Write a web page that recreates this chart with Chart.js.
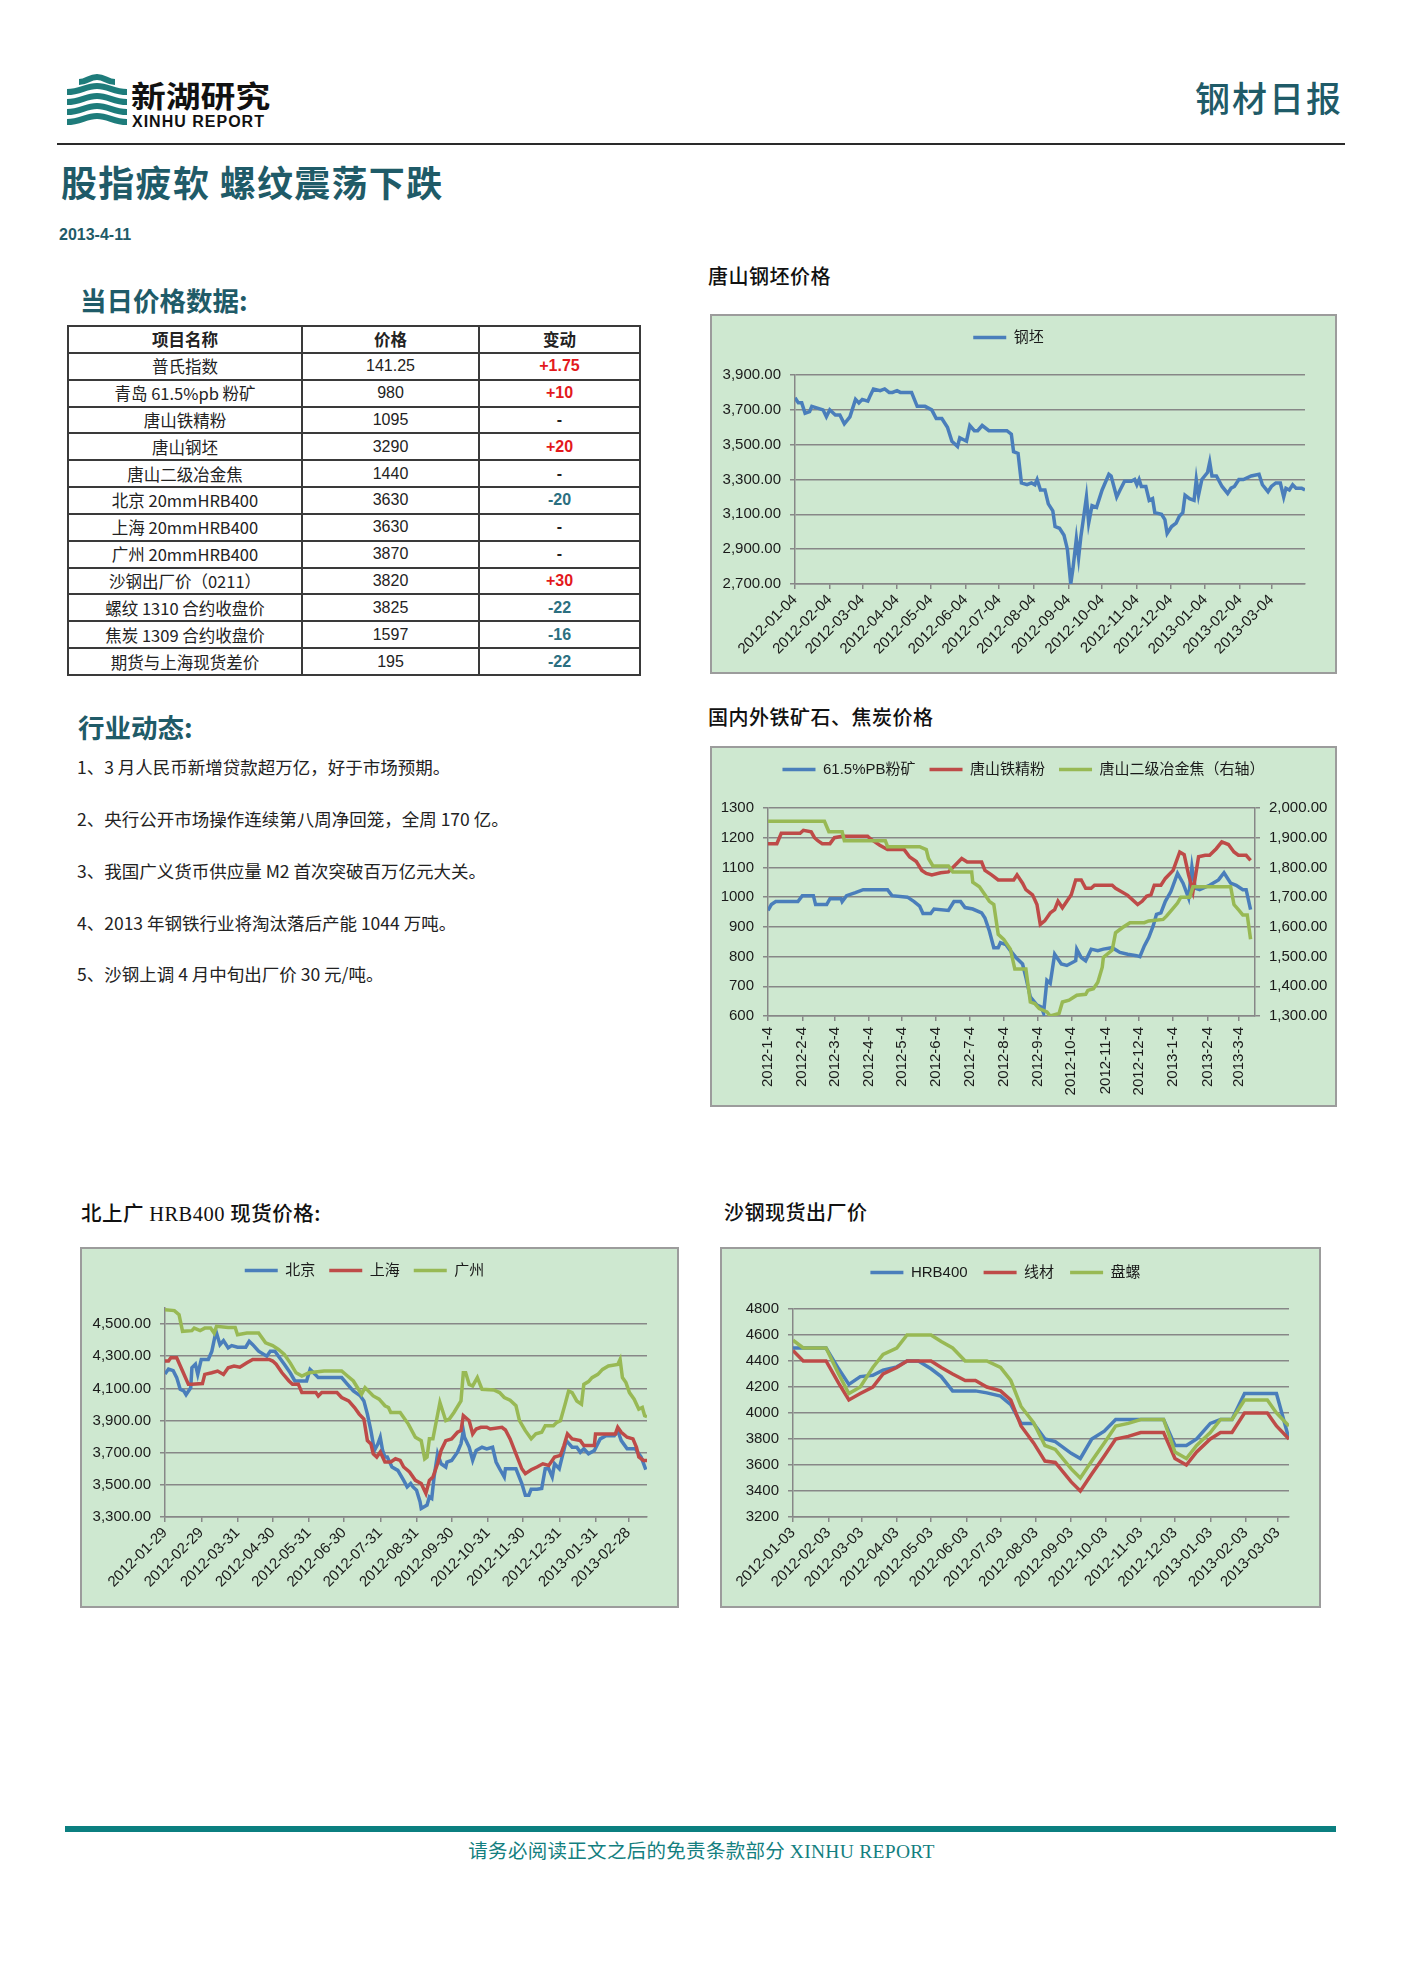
<!DOCTYPE html>
<html lang="zh-CN">
<head>
<meta charset="utf-8">
<title>钢材日报 2013-4-11</title>
<script src="https://cdn.jsdelivr.net/npm/chart.js@4.4.1/dist/chart.umd.min.js"></script>
<style>
  html, body { margin: 0; padding: 0; background: #fff; }
  body {
    width: 1403px; height: 1984px; position: relative; overflow: hidden;
    font-family: "Liberation Sans", "Noto Sans CJK SC", sans-serif; color: #1a1a1a;
  }
  .abs { position: absolute; white-space: nowrap; }
  .cjk { font-family: "Noto Sans CJK SC", sans-serif; }
  .teal { color: #1f5b68; }
  .box { position: absolute; background: #cee8d0; border: 2px solid #9c9c9c; box-sizing: border-box; }
  .box canvas { display: block; }
  .ctitle { font-family: "Noto Sans CJK SC", sans-serif; font-size: 20px; font-weight: 500; line-height: 24px; color: #111; letter-spacing: 0.5px; }
  .sect { font-family: "Noto Sans CJK SC", sans-serif; font-size: 26.5px; font-weight: 700; line-height: 32px; color: #1f5b68; }
  #priceTable { position: absolute; left: 67px; top: 325px; width: 572px; border-collapse: collapse; table-layout: fixed; }
  #priceTable td { border: 2px solid #3a3a3a; height: 24.85px; padding: 0; text-align: center;
    font-size: 16px; line-height: 18px; font-family: "Liberation Sans", "Noto Sans CJK SC", sans-serif; color: #222; }
  #priceTable td.cjk { font-family: "Noto Sans CJK SC", sans-serif; font-size: 16.5px; }
  #priceTable tr.head td { font-weight: 700; font-family: "Noto Sans CJK SC", sans-serif; font-size: 16.5px; }
  #priceTable td.up { color: #e3191c; font-weight: 700; }
  #priceTable td.down { color: #2b6f80; font-weight: 700; }
  #priceTable td.flat { font-weight: 700; }
  .news { font-family: "Noto Sans CJK SC", sans-serif; font-size: 17.5px; line-height: 22px; color: #222; left: 77px; }
</style>
</head>
<body>

<!-- header -->
<svg class="abs" style="left:67px;top:74px" width="60" height="56" viewBox="0 0 60 56">
  <g fill="none" stroke="#1e7c7b" stroke-width="6">
    <path d="M12 8 C20 8 22 3 30 3 C38 3 40 8 48 8"/>
    <path d="M0 18 C14 18 18 12 30 12 C42 12 46 18 60 18"/>
    <path d="M0 28 C14 28 18 22 30 22 C42 22 46 28 60 28"/>
    <path d="M0 38 C14 38 18 32 30 32 C42 32 46 38 60 38"/>
    <path d="M0 48 C14 48 18 42 30 42 C42 42 46 48 60 48"/>
  </g>
</svg>
<div class="abs cjk" style="left:131px;top:77px;font-size:30px;font-weight:700;line-height:34px;color:#111;transform:scaleX(1.16);transform-origin:left center;">新湖研究</div>
<div class="abs" style="left:132px;top:113px;font-size:16px;font-weight:700;line-height:18px;letter-spacing:1px;color:#111;">XINHU REPORT</div>
<div class="abs cjk teal" style="right:60px;top:77px;font-size:35px;font-weight:500;line-height:40px;letter-spacing:2px;">钢材日报</div>
<div class="abs" style="left:57px;top:143px;width:1288px;height:2px;background:#2a2a2a;"></div>

<div class="abs cjk teal" style="left:61px;top:161px;font-size:36px;font-weight:700;line-height:40px;letter-spacing:1.3px;">股指疲软 螺纹震荡下跌</div>
<div class="abs teal" style="left:59px;top:225px;font-size:16px;font-weight:700;line-height:20px;">2013-4-11</div>

<div class="abs sect" style="left:80px;top:284px;">当日价格数据:</div>
<table id="priceTable"></table>

<div class="abs sect" style="left:78px;top:711px;">行业动态:</div>
<div id="newsBox"></div>

<!-- chart titles and boxes -->
<div class="abs ctitle" style="left:708px;top:264px;">唐山钢坯价格</div>
<div class="box" style="left:710px;top:314px;width:627px;height:360px;"><canvas id="c1" width="623" height="356"></canvas></div>

<div class="abs ctitle" style="left:708px;top:705px;">国内外铁矿石、焦炭价格</div>
<div class="box" style="left:710px;top:746px;width:627px;height:361px;"><canvas id="c2" width="623" height="357"></canvas></div>

<div class="abs ctitle" style="left:81px;top:1200px;font-size:20.5px;">北上广 <span style="font-family:'Liberation Serif',serif;">HRB400</span> 现货价格:</div>
<div class="box" style="left:80px;top:1247px;width:599px;height:361px;"><canvas id="c3" width="595" height="357"></canvas></div>

<div class="abs ctitle" style="left:724px;top:1200px;">沙钢现货出厂价</div>
<div class="box" style="left:720px;top:1247px;width:601px;height:361px;"><canvas id="c4" width="597" height="357"></canvas></div>

<!-- footer -->
<div class="abs" style="left:65px;top:1826px;width:1271px;height:6px;background:#0b7f80;"></div>
<div class="abs cjk" style="left:0;width:1403px;text-align:center;top:1837px;font-size:19.5px;line-height:26px;color:#137f80;letter-spacing:0.3px;">请务必阅读正文之后的免责条款部分 <span style="font-family:'Liberation Serif',serif;">XINHU REPORT</span></div>

<script>
// ---------------- Table / news data ----------------
const TABLE_HEAD = ["项目名称", "价格", "变动"];
const TABLE_ITEMS = ["普氏指数", "青岛 61.5%pb 粉矿", "唐山铁精粉", "唐山钢坯", "唐山二级冶金焦",
  "北京 20mmHRB400", "上海 20mmHRB400", "广州 20mmHRB400", "沙钢出厂价（0211）",
  "螺纹 1310 合约收盘价", "焦炭 1309 合约收盘价", "期货与上海现货差价"];
const TABLE_PRICES = ["141.25", "980", "1095", "3290", "1440", "3630", "3630", "3870", "3820", "3825", "1597", "195"];
const TABLE_CHANGES = ["+1.75", "+10", "-", "+20", "-", "-20", "-", "-", "+30", "-22", "-16", "-22"];

const NEWS = [
  "1、3 月人民币新增贷款超万亿，好于市场预期。",
  "2、央行公开市场操作连续第八周净回笼，全周 170 亿。",
  "3、我国广义货币供应量 M2 首次突破百万亿元大关。",
  "4、2013 年钢铁行业将淘汰落后产能 1044 万吨。",
  "5、沙钢上调 4 月中旬出厂价 30 元/吨。"
];

// ---------------- Chart 1: 唐山钢坯 (days since 2012-01-04) ----------------
const BILLET_BASE = "2012-01-04";
const BILLET_TICKS = ["2012-01-04", "2012-02-04", "2012-03-04", "2012-04-04", "2012-05-04", "2012-06-04",
  "2012-07-04", "2012-08-04", "2012-09-04", "2012-10-04", "2012-11-04", "2012-12-04",
  "2013-01-04", "2013-02-04", "2013-03-04"];
const BILLET_Y_TICKS = [2700, 2900, 3100, 3300, 3500, 3700, 3900];
const BILLET_DAY = [0, 3, 6, 9, 13, 15, 20, 25, 28, 31, 36, 40, 44, 49, 54, 57, 60, 65, 67, 70,
  76, 80, 84, 87, 91, 94, 104, 109, 116, 122, 126, 131, 136, 140, 145, 147, 153, 156, 160, 163,
  167, 173, 182, 189, 193, 195, 199, 202, 207, 211, 214, 216, 219, 223, 226, 230, 232, 236, 240, 243,
  246, 248, 251, 253, 255, 257, 260, 262, 265, 269, 274, 280, 282, 287, 290, 294, 300, 303, 305, 307,
  309, 313, 316, 319, 321, 327, 330, 332, 336, 340, 343, 346, 348, 352, 356, 358, 360, 363, 368, 370,
  372, 376, 381, 386, 389, 392, 396, 400, 407, 414, 417, 422, 425, 429, 433, 436, 438, 441, 444, 447,
  452, 455];
const BILLET_PRICE = [3770, 3740, 3740, 3680, 3690, 3720, 3710, 3700, 3660, 3700, 3670, 3670, 3620, 3660, 3760, 3740, 3760, 3750, 3780, 3820,
  3810, 3820, 3800, 3800, 3810, 3800, 3800, 3720, 3720, 3700, 3650, 3650, 3600, 3520, 3490, 3540, 3520, 3610, 3580, 3580,
  3610, 3580, 3580, 3580, 3560, 3460, 3450, 3280, 3270, 3280, 3270, 3300, 3240, 3240, 3160, 3120, 3030, 3020, 2980, 2900,
  2700, 2790, 2960, 2850, 2970, 3060, 3200, 3050, 3150, 3140, 3240, 3330, 3320, 3200, 3240, 3290, 3290, 3300, 3270, 3300,
  3260, 3260, 3180, 3190, 3110, 3100, 3070, 2990, 3030, 3050, 3090, 3110, 3210, 3190, 3180, 3300, 3210, 3300, 3340, 3400,
  3320, 3320, 3260, 3220, 3250, 3260, 3300, 3300, 3320, 3330, 3270, 3230, 3260, 3280, 3280, 3200, 3250, 3240, 3270, 3250,
  3250, 3240];

// ---------------- Chart 2: 铁矿石 / 焦炭 (days since 2012-1-4) ----------------
const ORE_BASE = "2012-1-4";
const ORE_TICKS = ["2012-1-4", "2012-2-4", "2012-3-4", "2012-4-4", "2012-5-4", "2012-6-4", "2012-7-4",
  "2012-8-4", "2012-9-4", "2012-10-4", "2012-11-4", "2012-12-4", "2013-1-4", "2013-2-4", "2013-3-4"];
const ORE_Y_TICKS = [600, 700, 800, 900, 1000, 1100, 1200, 1300];
const COKE_Y_TICKS = [1300, 1400, 1500, 1600, 1700, 1800, 1900, 2000];
const PB_DAY = [0, 3, 7, 27, 31, 41, 43, 53, 56, 66, 67, 71, 79, 86, 108, 112, 126, 132, 137, 140,
  147, 150, 163, 168, 174, 178, 185, 193, 196, 200, 204, 208, 210, 215, 219, 224, 230, 233, 237, 243,
  247, 249, 252, 255, 259, 265, 270, 278, 279, 283, 287, 292, 298, 303, 311, 318, 325, 333, 336, 340,
  344, 348, 351, 355, 359, 364, 370, 375, 380, 383, 386, 390, 399, 407, 412, 418, 423, 429, 432, 436];
const PB_PRICE = [955, 975, 985, 985, 1005, 1005, 975, 975, 995, 995, 985, 1005, 1015, 1025, 1025, 1005, 1000, 985, 970, 945,
  945, 960, 955, 985, 985, 965, 960, 947, 930, 886, 830, 830, 847, 840, 820, 797, 775, 730, 664, 637,
  630, 610, 720, 710, 808, 775, 770, 786, 825, 797, 786, 825, 820, 825, 830, 814, 808, 803, 800, 836,
  864, 903, 942, 947, 986, 1019, 1080, 1047, 997, 1102, 1030, 1025, 1040, 1058, 1082, 1047, 1040, 1025, 1025, 958];
const TS_FINES_DAY = [0, 8, 12, 29, 32, 39, 42, 45, 49, 56, 60, 67, 90, 93, 101, 108, 123, 128, 134, 139,
  143, 148, 156, 163, 171, 175, 180, 193, 196, 202, 208, 222, 225, 230, 233, 239, 243, 246, 250, 255,
  259, 262, 266, 270, 274, 278, 283, 287, 292, 295, 311, 314, 325, 334, 338, 342, 346, 349, 355, 359,
  366, 372, 376, 380, 384, 389, 395, 399, 405, 410, 416, 421, 425, 432, 436];
const TS_FINES_PRICE = [1180, 1180, 1215, 1215, 1225, 1220, 1200, 1190, 1180, 1180, 1200, 1205, 1205, 1195, 1175, 1160, 1160, 1135, 1120, 1090,
  1080, 1075, 1082, 1085, 1115, 1130, 1118, 1118, 1090, 1075, 1058, 1058, 1075, 1047, 1025, 1008, 975, 908, 920, 947,
  958, 986, 964, 986, 1008, 1058, 1058, 1030, 1030, 1040, 1040, 1030, 1006, 975, 986, 1003, 1008, 1040, 1040, 1063,
  1090, 1152, 1143, 1075, 1019, 1136, 1141, 1141, 1163, 1186, 1177, 1152, 1141, 1141, 1124];
const COKE_DAY = [0, 51, 55, 67, 69, 106, 108, 137, 143, 145, 149, 163, 167, 184, 185, 191, 196, 200, 204, 208,
  213, 219, 223, 233, 237, 241, 245, 252, 255, 263, 266, 272, 279, 287, 289, 294, 298, 302, 303, 311,
  314, 320, 327, 340, 344, 357, 360, 365, 370, 373, 381, 384, 418, 421, 425, 429, 433, 436];
const COKE_PRICE = [1955, 1955, 1920, 1920, 1890, 1890, 1870, 1870, 1860, 1830, 1805, 1805, 1785, 1785, 1750, 1735, 1708, 1686, 1675, 1575,
  1558, 1525, 1458, 1458, 1347, 1342, 1325, 1314, 1300, 1309, 1347, 1353, 1370, 1373, 1386, 1392, 1414, 1464, 1497, 1522,
  1580, 1597, 1614, 1614, 1620, 1625, 1636, 1658, 1680, 1700, 1700, 1735, 1735, 1675, 1658, 1640, 1640, 1558];

// ---------------- Chart 3: 北上广 HRB400 (days since 2012-01-29) ----------------
const REBAR_BASE = "2012-01-29";
const REBAR_TICKS = ["2012-01-29", "2012-02-29", "2012-03-31", "2012-04-30", "2012-05-31", "2012-06-30", "2012-07-31",
  "2012-08-31", "2012-09-30", "2012-10-31", "2012-11-30", "2012-12-31", "2013-01-31", "2013-02-28"];
const REBAR_Y_TICKS = [3300, 3500, 3700, 3900, 4100, 4300, 4500];
const BJ_DAY = [0, 3, 7, 10, 13, 16, 18, 22, 23, 26, 28, 31, 37, 40, 43, 44, 47, 50, 54, 57,
  62, 69, 72, 75, 80, 87, 90, 94, 97, 102, 107, 111, 121, 124, 127, 131, 151, 156, 161, 167,
  170, 173, 176, 179, 182, 184, 186, 188, 190, 194, 199, 204, 207, 210, 212, 215, 218, 219, 224, 226,
  228, 230, 233, 236, 240, 241, 245, 250, 253, 255, 256, 260, 263, 266, 271, 275, 280, 283, 286, 290,
  291, 300, 305, 308, 311, 313, 318, 322, 325, 328, 331, 333, 337, 338, 343, 348, 352, 355, 358, 362,
  367, 372, 377, 384, 387, 390, 395, 402, 407, 411];
const BJ_PRICE = [4190, 4220, 4210, 4167, 4095, 4084, 4060, 4105, 4228, 4250, 4187, 4280, 4280, 4330, 4434, 4445, 4372, 4397, 4352, 4366,
  4356, 4356, 4393, 4372, 4331, 4300, 4331, 4331, 4300, 4250, 4197, 4146, 4146, 4218, 4197, 4167, 4167, 4125, 4084, 4053,
  4022, 3940, 3837, 3714, 3755, 3796, 3714, 3673, 3673, 3611, 3590, 3528, 3487, 3508, 3487, 3467, 3395, 3353, 3374, 3425,
  3415, 3549, 3693, 3631, 3611, 3642, 3652, 3703, 3755, 3837, 3796, 3734, 3652, 3714, 3734, 3724, 3734, 3642, 3600, 3549,
  3600, 3600, 3508, 3436, 3436, 3473, 3473, 3477, 3600, 3600, 3549, 3631, 3600, 3631, 3775, 3734, 3734, 3703, 3724, 3693,
  3714, 3786, 3806, 3806, 3837, 3775, 3724, 3724, 3673, 3594];
const SH_DAY = [0, 3, 5, 10, 15, 20, 23, 32, 34, 40, 45, 50, 54, 59, 64, 70, 75, 89, 92, 95,
  100, 106, 109, 114, 117, 129, 131, 134, 147, 151, 157, 162, 166, 170, 173, 176, 178, 181, 184, 188,
  193, 197, 201, 204, 209, 214, 219, 223, 226, 229, 233, 236, 240, 245, 250, 253, 255, 260, 263, 266,
  270, 275, 278, 288, 291, 295, 300, 305, 308, 313, 318, 323, 328, 333, 338, 341, 344, 348, 355, 358,
  367, 368, 385, 387, 390, 395, 400, 403, 405, 409, 412];
const SH_PRICE = [4270, 4270, 4290, 4290, 4208, 4125, 4125, 4130, 4187, 4197, 4208, 4187, 4228, 4239, 4232, 4259, 4280, 4280, 4270, 4250,
  4197, 4146, 4125, 4125, 4074, 4074, 4053, 4074, 4074, 4043, 4022, 3981, 3940, 3909, 3775, 3755, 3693, 3673, 3704, 3642,
  3642, 3662, 3652, 3611, 3580, 3528, 3508, 3446, 3528, 3549, 3631, 3714, 3775, 3786, 3827, 3837, 3930, 3899, 3817, 3847,
  3858, 3858, 3847, 3858, 3841, 3786, 3693, 3600, 3570, 3594, 3611, 3631, 3621, 3673, 3683, 3745, 3817, 3786, 3775, 3745,
  3745, 3817, 3817, 3858, 3827, 3796, 3786, 3734, 3673, 3652, 3652];
const GZ_DAY = [0, 8, 12, 15, 23, 25, 30, 34, 39, 42, 44, 54, 60, 62, 70, 80, 86, 92, 97, 102,
  107, 112, 117, 123, 136, 151, 156, 161, 168, 171, 178, 183, 188, 191, 193, 201, 208, 214, 219, 222,
  224, 226, 229, 235, 240, 243, 247, 253, 255, 257, 260, 263, 267, 271, 281, 286, 290, 295, 300, 303,
  308, 313, 317, 322, 325, 332, 335, 338, 342, 345, 348, 352, 356, 358, 362, 365, 370, 374, 379, 387,
  389, 391, 394, 397, 401, 405, 408, 410, 412];
const GZ_PRICE = [4589, 4584, 4558, 4455, 4459, 4475, 4459, 4475, 4475, 4444, 4486, 4479, 4479, 4434, 4444, 4444, 4383, 4366, 4342, 4311,
  4259, 4197, 4177, 4197, 4208, 4208, 4177, 4146, 4064, 4105, 4053, 4033, 3992, 3981, 3950, 3950, 3878, 3796, 3775, 3662,
  3673, 3786, 3786, 4012, 3899, 3909, 3950, 4022, 4197, 4197, 4125, 4115, 4167, 4094, 4090, 4074, 4043, 4026, 3992, 3899,
  3837, 3786, 3817, 3827, 3868, 3868, 3889, 3899, 4002, 4084, 4074, 4022, 4002, 4125, 4142, 4167, 4187, 4218, 4239, 4249,
  4280, 4167, 4136, 4074, 4033, 3971, 3981, 3930, 3924];

// ---------------- Chart 4: 沙钢出厂价 (days since 2012-01-03) ----------------
const SG_BASE = "2012-01-03";
const SG_TICKS = ["2012-01-03", "2012-02-03", "2012-03-03", "2012-04-03", "2012-05-03", "2012-06-03", "2012-07-03",
  "2012-08-03", "2012-09-03", "2012-10-03", "2012-11-03", "2012-12-03", "2013-01-03", "2013-02-03", "2013-03-03"];
const SG_Y_TICKS = [3200, 3400, 3600, 3800, 4000, 4200, 4400, 4600, 4800];
const SG_DAY = [0, 9, 19, 29, 40, 49, 59, 70, 79, 91, 100, 110, 121, 130, 140, 151, 160, 170, 182, 191,
  200, 211, 221, 230, 244, 252, 262, 273, 283, 294, 305, 315, 325, 335, 345, 354, 366, 375, 385, 396,
  407, 416, 424, 435];
const SG_HRB400 = [4500, 4500, 4500, 4500, 4340, 4220, 4280, 4290, 4330, 4355, 4400, 4400, 4340, 4280, 4170, 4170, 4170, 4155, 4130, 4065,
  3920, 3920, 3800, 3780, 3690, 3650, 3800, 3860, 3950, 3950, 3950, 3950, 3950, 3750, 3750, 3800, 3920, 3950, 3950, 4150,
  4150, 4150, 4150, 3800];
const SG_WIRE = [4480, 4400, 4400, 4400, 4230, 4100, 4150, 4200, 4300, 4350, 4400, 4400, 4400, 4350, 4300, 4250, 4250, 4200, 4170, 4100,
  3900, 3770, 3630, 3620, 3470, 3400, 3530, 3670, 3800, 3820, 3850, 3850, 3850, 3650, 3600, 3700, 3800, 3850, 3850, 4000,
  4000, 4000, 3900, 3800];
const SG_COIL = [4560, 4500, 4500, 4500, 4300, 4150, 4200, 4350, 4450, 4500, 4600, 4600, 4600, 4550, 4500, 4400, 4400, 4400, 4350, 4250,
  4050, 3925, 3750, 3720, 3570, 3500, 3630, 3770, 3900, 3920, 3950, 3950, 3950, 3700, 3650, 3750, 3850, 3950, 3950, 4100,
  4100, 4100, 4000, 3900];

// ---------------- Page text ----------------
(function buildTable() {
  const t = document.getElementById("priceTable");
  const widths = [234, 177, 161];
  let html = "<colgroup>" + widths.map(w => `<col style="width:${w}px">`).join("") + "</colgroup>";
  html += '<tr class="head">' + TABLE_HEAD.map(h => `<td>${h}</td>`).join("") + "</tr>";
  TABLE_ITEMS.forEach((name, i) => {
    const ch = TABLE_CHANGES[i];
    const cls = ch.startsWith("+") ? "up" : (ch === "-" ? "flat" : "down");
    html += `<tr><td class="cjk">${name}</td><td>${TABLE_PRICES[i]}</td><td class="${cls}">${ch}</td></tr>`;
  });
  t.innerHTML = html;
})();

(function buildNews() {
  const box = document.getElementById("newsBox");
  const tops = [756, 808, 860, 912, 963];
  NEWS.forEach((line, i) => {
    const d = document.createElement("div");
    d.className = "abs news";
    d.style.top = tops[i] + "px";
    d.textContent = line;
    box.appendChild(d);
  });
})();

// ---------------- Chart helpers ----------------
Chart.defaults.font.family = '"Liberation Sans", "Noto Sans CJK SC", sans-serif';
Chart.defaults.font.size = 15;
Chart.defaults.color = "#1a1a1a";

const GRID = "#878787";
const BLUE = "#4a7ebb", RED = "#be4b48", GREEN = "#98b954";

function dayOf(str, base) {
  const [a, b, c] = str.split("-").map(Number);
  const [d, e, f] = base.split("-").map(Number);
  return Math.round((Date.UTC(a, b - 1, c) - Date.UTC(d, e - 1, f)) / 86400000);
}

function pts(days, vals) {
  return days.map((d, i) => ({ x: d, y: vals[i] }));
}

function fmt2(v) {
  return Number(v).toLocaleString("en-US", { minimumFractionDigits: 2, maximumFractionDigits: 2 });
}

// extra room between the legend and the plot (Excel leaves a big gap there)
const legendGap = {
  id: "legendGap",
  beforeUpdate(chart, args, opts) {
    const lg = chart.legend;
    if (!lg || lg._gapPatched) return;
    const fit = lg.fit;
    lg.fit = function () { fit.call(this); this.height += opts.gap || 0; };
    lg._gapPatched = true;
  }
};

function lineSet(label, color, data, order, axis) {
  return {
    label, data, order,
    borderColor: color, backgroundColor: color,
    borderWidth: 3.5, pointRadius: 0, tension: 0,
    yAxisID: axis || "y"
  };
}

function xAxis(tickLabels, base, max, rotation, height, pad) {
  const vals = tickLabels.map(t => dayOf(t, base));
  return {
    type: "linear", min: 0, max,
    afterBuildTicks: ax => { ax.ticks = vals.map(v => ({ value: v })); },
    afterFit: ax => { ax.height = height; },
    ticks: {
      autoSkip: false, minRotation: rotation, maxRotation: rotation, padding: pad,
      callback: v => tickLabels[vals.indexOf(v)]
    },
    grid: { drawOnChartArea: false, drawTicks: true, tickLength: 5, color: GRID, lineWidth: 1.5 },
    border: { color: GRID, width: 1.5 }
  };
}

function yAxis(ticks, min, max, fmt, width, position) {
  return {
    type: "linear", position: position || "left", min, max,
    afterBuildTicks: ax => { ax.ticks = ticks.map(v => ({ value: v })); },
    afterFit: ax => { ax.width = width; },
    ticks: { callback: fmt, padding: 9 },
    grid: { color: GRID, lineWidth: 1.5, tickLength: 5, drawOnChartArea: position !== "right" },
    border: { color: GRID, width: 1.5 }
  };
}

function makeChart(id, datasets, scales, legendPad, gap, rightPad) {
  return new Chart(document.getElementById(id), {
    type: "line",
    data: { datasets },
    options: {
      responsive: false, animation: false, devicePixelRatio: 1,
      layout: { padding: { top: 0, right: rightPad, bottom: 0, left: 0 } },
      plugins: {
        legend: {
          position: "top",
          labels: {
            usePointStyle: true, pointStyle: "line", pointStyleWidth: 33,
            padding: legendPad, color: "#1a1a1a", font: { size: 15 },
            sort: (a, b) => a.datasetIndex - b.datasetIndex
          }
        },
        legendGap: { gap },
        tooltip: { enabled: false }
      },
      scales
    },
    plugins: [legendGap]
  });
}

// ---------------- Charts ----------------
makeChart("c1",
  [lineSet("钢坯", BLUE, pts(BILLET_DAY, BILLET_PRICE), 1)],
  {
    x: xAxis(BILLET_TICKS, BILLET_BASE, 455, 45, 88, 2),
    y: yAxis(BILLET_Y_TICKS, 2700, 3900, fmt2, 83)
  }, 14, 20, 30);

makeChart("c2",
  [
    lineSet("61.5%PB粉矿", BLUE, pts(PB_DAY, PB_PRICE), 3),
    lineSet("唐山铁精粉", RED, pts(TS_FINES_DAY, TS_FINES_PRICE), 2),
    lineSet("唐山二级冶金焦（右轴）", GREEN, pts(COKE_DAY, COKE_PRICE), 1, "y1")
  ],
  {
    x: xAxis(ORE_TICKS, ORE_BASE, 440, 90, 89, 6),
    y: yAxis(ORE_Y_TICKS, 600, 1300, v => String(v), 56),
    y1: yAxis(COKE_Y_TICKS, 1300, 2000, fmt2, 80, "right")
  }, 14, 21, 0);

makeChart("c3",
  [
    lineSet("北京", BLUE, pts(BJ_DAY, BJ_PRICE), 3),
    lineSet("上海", RED, pts(SH_DAY, SH_PRICE), 2),
    lineSet("广州", GREEN, pts(GZ_DAY, GZ_PRICE), 1)
  ],
  {
    x: xAxis(REBAR_TICKS, REBAR_BASE, 412, 45, 89, 2),
    y: yAxis(REBAR_Y_TICKS, 3300, 4600, fmt2, 83)
  }, 14, 20, 30);

makeChart("c4",
  [
    lineSet("HRB400", BLUE, pts(SG_DAY, SG_HRB400), 3),
    lineSet("线材", RED, pts(SG_DAY, SG_WIRE), 2),
    lineSet("盘螺", GREEN, pts(SG_DAY, SG_COIL), 1)
  ],
  {
    x: xAxis(SG_TICKS, SG_BASE, 435, 45, 89, 2),
    y: yAxis(SG_Y_TICKS, 3200, 4800, v => String(v), 71)
  }, 16, 19, 30);
</script>
</body>
</html>
